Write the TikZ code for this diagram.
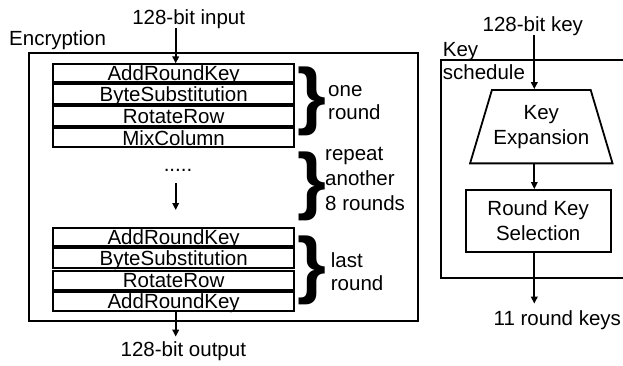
\documentclass[tikz,border=0pt]{standalone}
\usepackage{fontspec}
\setmainfont{Liberation Sans}
\usetikzlibrary{arrows.meta,shapes.geometric}

\begin{document}
\begin{tikzpicture}[x=1pt,y=-1pt,
  every node/.style={font=\fontsize{20.5}{23}\selectfont, inner sep=0pt},
  lw/.style={line width=1.8pt},
  arr/.style={lw, -{Triangle[length=7pt,width=6.5pt]}},
  rowbox/.style={draw, lw, minimum width=240.7pt, text height=14.7pt, text depth=0pt},
  frame/.style={draw, lw, anchor=north west},
  brace/.style={font=\fontsize{74}{74}\bfseries\selectfont},
  note/.style={anchor=base west, align=left},
]
\useasboundingbox (0,0) rectangle (623,365);

% ---------------- Encryption ----------------
\node[frame, minimum width=388.7pt, minimum height=268pt] (enc) at (28,52) {};
\node[anchor=base west] (enclabel) at (9,45) {Encryption};

\node[rowbox, minimum height=17.4pt] (r1) at (173.65,73)    {AddRoundKey};
\node[rowbox, minimum height=19.7pt] (r2) at (173.65,94.15) {ByteSubstitution};
\node[rowbox, minimum height=20pt]   (r3) at (173.65,116)   {RotateRow};
\node[rowbox, minimum height=19pt]   (r4) at (173.65,137.8) {MixColumn};

\node[rowbox, minimum height=18.3pt] (r5) at (173.65,236.85) {AddRoundKey};
\node[rowbox, minimum height=20pt]   (r6) at (173.65,258.3)  {ByteSubstitution};
\node[rowbox, minimum height=19.3pt] (r7) at (173.65,280.35) {RotateRow};
\node[rowbox, minimum height=18.4pt] (r8) at (173.65,301.5)  {AddRoundKey};

\node[anchor=base] (dots) at (178,171.5) {.....};

\node[anchor=base] (in) at (188.7,24) {128-bit input};
\node[anchor=base, inner ysep=5pt] (out) at (183.3,356.7) {128-bit output};

\coordinate (ax) at (175.7,0);
\coordinate (m1) at (175.7,183);
\coordinate (m2) at (175.7,210);
\draw[arr] (in.south -| ax) -- (r1.north -| ax);
\draw[arr] (m1) -- (m2);
\draw[arr] (r8.south -| ax) -- (out.north -| ax);

% braces and their notes (a multi-line note sits on its last baseline)
\node[brace] (b1) at (311.7,101.7) {\}};
\node[brace] (b2) at (311.5,186.7) {\}};
\node[brace] (b3) at (311.5,270)   {\}};
\node[note, font=\fontsize{20.5}{22.5}\selectfont] (n1) at (328,119)    {one\\round};
\node[note, font=\fontsize{20.5}{25}\selectfont]   (n2) at (325,210)    {repeat\\another\\8 rounds};
\node[note, font=\fontsize{20.5}{22.7}\selectfont] (n3) at (330.7,290)  {last\\round};

% ---------------- Key schedule ----------------
\begin{scope}
  \clip (0,0) rectangle (623,365);
  \node[frame, minimum width=250pt, minimum height=217.7pt] (ks) at (440,59) {};
\end{scope}
\node[note, font=\fontsize{20.5}{23.3}\selectfont] (kslabel) at (442.7,79.3) {Key\\schedule};

\node[anchor=base] (kin) at (532.8,31) {128-bit key};
\node[trapezium, draw, lw, trapezium stretches=true,
      trapezium left angle=64, trapezium right angle=64,
      minimum width=142.7pt, minimum height=73.3pt,
      align=center, font=\fontsize{20.5}{25}\selectfont] (kexp) at (541.3,126.7) {Key\\Expansion};
\node[draw, lw, minimum width=145pt, minimum height=61.7pt,
      align=center, font=\fontsize{20.5}{25}\selectfont] (rks) at (538.2,220.8) {Round Key\\Selection};
\node[anchor=base, inner ysep=7pt] (keys) at (557.3,325.7) {11 round keys};

\coordinate (kx) at (534.3,0);
\draw[arr] (kin.south -| kx) -- (kexp.north -| kx);
\draw[arr] (kexp.south -| kx) -- (rks.north -| kx);
\draw[arr] (rks.south -| kx) -- (keys.north -| kx);
\end{tikzpicture}
\end{document}
